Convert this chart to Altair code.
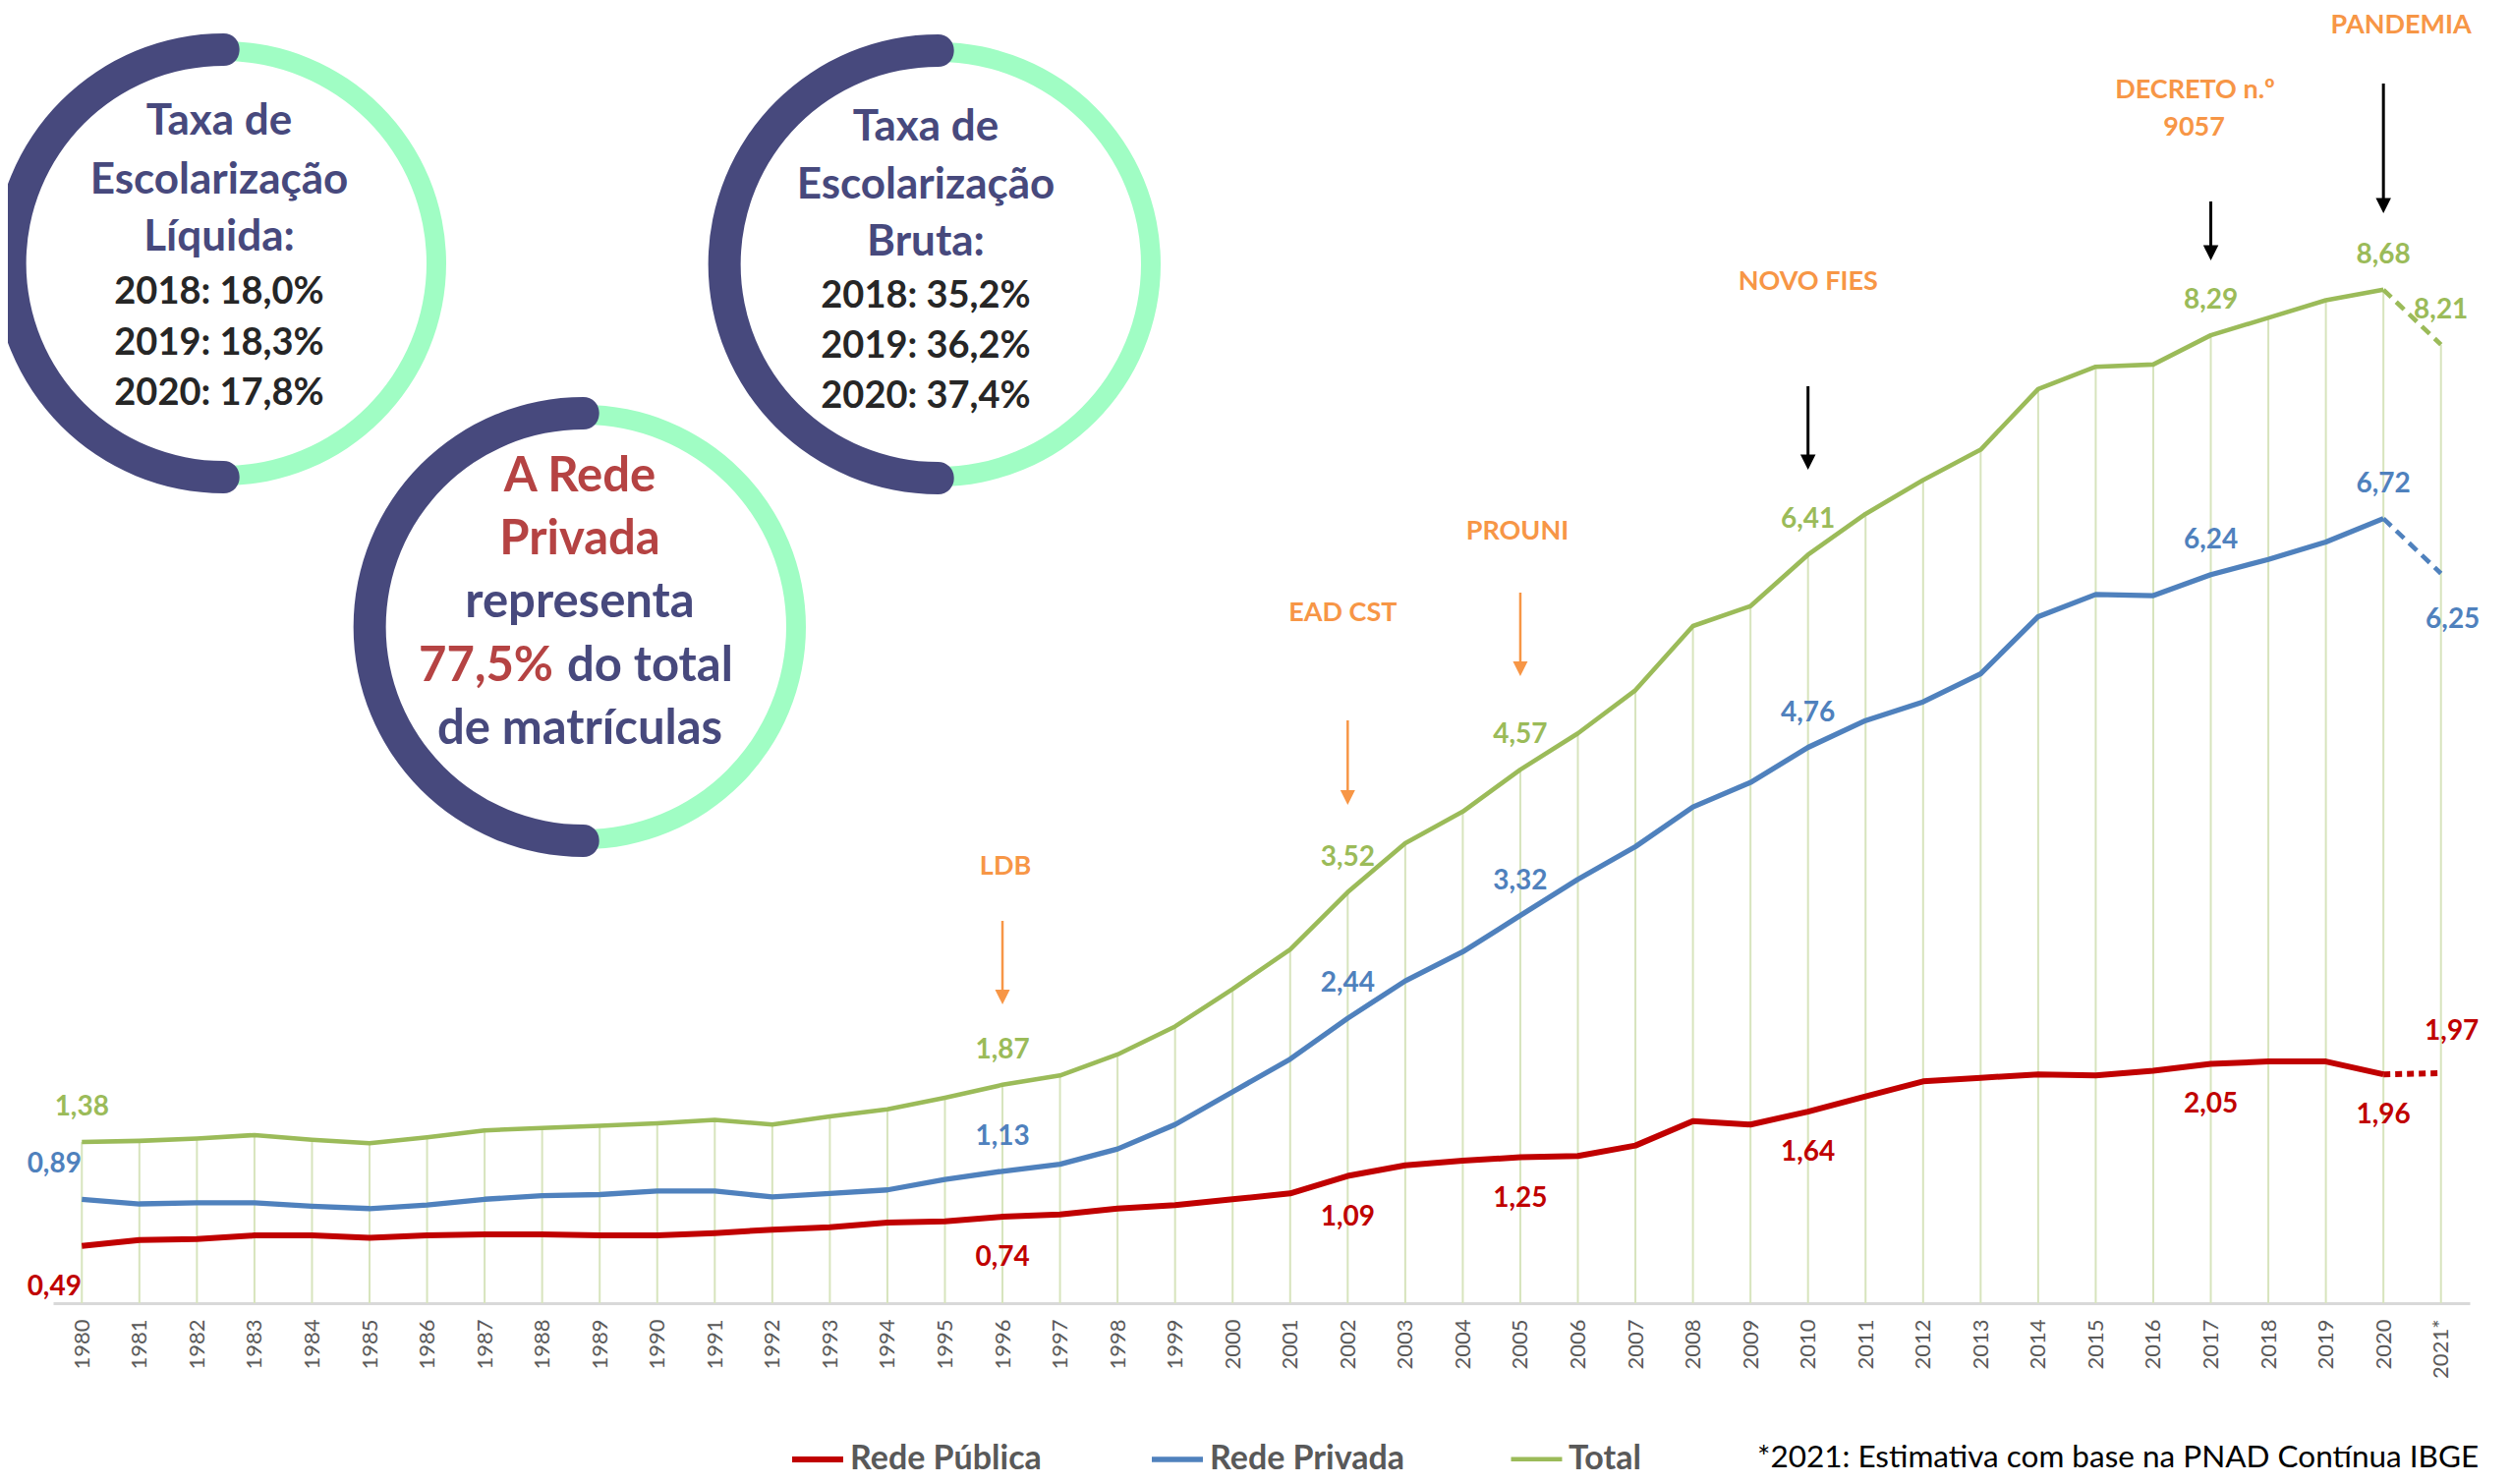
import math
import altair as alt
import pandas as pd

# ---------------- data ----------------
years = [str(y) for y in range(1980, 2021)] + ["2021*"]
rede_publica = [0.49, 0.54, 0.55, 0.58, 0.58, 0.56, 0.58, 0.59, 0.59, 0.58,
                0.58, 0.60, 0.63, 0.65, 0.69, 0.70, 0.74, 0.76, 0.81, 0.84,
                0.89, 0.94, 1.09, 1.18, 1.22, 1.25, 1.26, 1.35, 1.56, 1.53,
                1.64, 1.77, 1.90, 1.93, 1.96, 1.95, 1.99, 2.05, 2.07, 2.07,
                1.96, 1.97]
rede_privada = [0.89, 0.85, 0.86, 0.86, 0.83, 0.81, 0.84, 0.89, 0.92, 0.93,
                0.96, 0.96, 0.91, 0.94, 0.97, 1.06, 1.13, 1.19, 1.32, 1.53,
                1.81, 2.09, 2.44, 2.76, 3.01, 3.32, 3.63, 3.91, 4.25, 4.46,
                4.76, 4.99, 5.15, 5.39, 5.88, 6.07, 6.06, 6.24, 6.37, 6.52,
                6.72, 6.25]
total = [1.38, 1.39, 1.41, 1.44, 1.40, 1.37, 1.42, 1.48, 1.50, 1.52,
         1.54, 1.57, 1.53, 1.60, 1.66, 1.76, 1.87, 1.95, 2.13, 2.37,
         2.69, 3.03, 3.52, 3.94, 4.21, 4.57, 4.88, 5.25, 5.80, 5.97,
         6.41, 6.76, 7.05, 7.31, 7.83, 8.02, 8.04, 8.29, 8.44, 8.59,
         8.68, 8.21]
series_names = ["Rede Pública", "Rede Privada", "Total"]
series_colors = ["#C00000", "#4F81BD", "#9BBB59"]
series_widths = [6, 4.6, 4.6]
series_dash = [[7, 5], [11, 7], [11, 7]]

label_years = ["1980", "1996", "2002", "2005", "2010", "2017", "2020", "2021*"]

event_lines = ["LDB", "EAD CST", "PROUNI", "NOVO FIES", "DECRETO n.º", "9057", "PANDEMIA"]
event_line_years = ["1996", "2002", "2005", "2010", "2017", "2017", "2020"]
arrow_years = ["1996", "2002", "2005", "2010", "2017", "2020"]

liquida_title = ["Taxa de", "Escolarização", "Líquida:"]
liquida_vals = ["2018: 18,0%", "2019: 18,3%", "2020: 17,8%"]
bruta_title = ["Taxa de", "Escolarização", "Bruta:"]
bruta_vals = ["2018: 35,2%", "2019: 36,2%", "2020: 37,4%"]
privada_share = "77,5%"
footnote = "*2021: Estimativa com base na PNAD Contínua IBGE"

# ---------------- layout / style ----------------
PLOT_W, PLOT_H = 2459, 1318
PAD = {"left": 46, "right": 34, "top": 0, "bottom": 176}
PX_PER_UNIT = 118.8
Y_MAX = PLOT_H / PX_PER_UNIT
FONT = "Lato"
ORANGE = "#F79646"
PURPLE = "#47497D"
MINT = "#A0FDC4"
BRICK = "#B54343"
DARK = "#262626"
GRID = "#D7E4BD"


def page_to_value(py_):
    return (PLOT_H + 8 - py_) / PX_PER_UNIT


def px(page_x):
    return page_x - (8 + PAD["left"])


def py(page_y):
    return page_y - 8


def fmt(v):
    return f"{v:.2f}".replace(".", ",")


rows = []
for i, yr in enumerate(years):
    for s, vals in zip(series_names, [rede_publica, rede_privada, total]):
        rows.append({"year": yr, "series": s, "value": vals[i], "label": fmt(vals[i])})
df = pd.DataFrame(rows)
df_total = pd.DataFrame({"year": years, "value": total})

xscale = alt.Scale(type="point", padding=0.5)
X = alt.X("year:O", sort=years, scale=xscale, title=None,
          axis=alt.Axis(labelAngle=270, labelFontSize=22, labelColor="#595959",
                        labelFont=FONT, labelPadding=16, ticks=False, grid=False,
                        domainColor="#D9D9D9", domainWidth=3))
yscale = alt.Scale(domain=[0, Y_MAX], nice=False, zero=False)


def Yf(field):
    return alt.Y(f"{field}:Q", scale=yscale, axis=None)


color_enc = alt.Color(
    "series:N",
    scale=alt.Scale(domain=series_names, range=series_colors),
    legend=alt.Legend(title=None, orient="none", legendX=px(803), legendY=py(1456),
                      direction="horizontal", symbolType="stroke", symbolStrokeWidth=5,
                      symbolSize=2700, labelFontSize=34, labelFontWeight="bold",
                      labelColor="#595959", labelFont=FONT, labelOffset=4,
                      columnPadding=97, gridAlign="all", padding=0, labelLimit=400),
)
width_enc = alt.StrokeWidth("series:N", scale=alt.Scale(domain=series_names, range=series_widths), legend=None)

layers = []

# drop lines
layers.append(alt.Chart(df_total).mark_rule(color=GRID, strokeWidth=2).encode(
    x=X, y=Yf("value"), y2=alt.datum(0)))

# solid lines
layers.append(alt.Chart(df[df.year != "2021*"]).mark_line(strokeJoin="round").encode(
    x=X, y=Yf("value"), color=color_enc, strokeWidth=width_enc))

# dashed estimate segment (one layer per series, literal colours)
for s, c, w, dash in zip(series_names, series_colors, series_widths, series_dash):
    sub = df[df.year.isin(["2020", "2021*"]) & (df.series == s)]
    layers.append(alt.Chart(sub).mark_line(color=c, strokeWidth=w, strokeDash=dash).encode(
        x=X, y=Yf("value")))

# data labels
placements = {"above": (0, -35), "below": (0, 42), "above_left": (-28, -35),
              "below_left": (-28, 42), "above_right": (11, -42), "below_right": (12, 47)}
special = {("Rede Privada", "1980"): "above_left", ("Rede Privada", "2021*"): "below_right",
           ("Rede Pública", "1980"): "below_left", ("Rede Pública", "2021*"): "above_right"}
default_place = {"Total": "above", "Rede Privada": "above", "Rede Pública": "below"}
lab = df[df.year.isin(label_years)].copy()
lab["place"] = [special.get((s, y), default_place[s]) for s, y in zip(lab.series, lab.year)]
for s, c in zip(series_names, series_colors):
    for pname, (ddx, ddy) in placements.items():
        sub = lab[(lab.series == s) & (lab.place == pname)]
        if len(sub) == 0:
            continue
        layers.append(alt.Chart(sub).mark_text(
            dx=ddx, dy=ddy, font=FONT, fontSize=28, fontWeight="bold", color=c,
            align="center", baseline="middle").encode(x=X, y=Yf("value"), text="label:N"))

# event annotations (text)
ev_page_y = [882, 624, 541, 287, 91.5, 129.5, 26]
ev_dx = [3, -5, -3, 0, -16, -17, 18]
for t, yr, yy, ddx in zip(event_lines, event_line_years, ev_page_y, ev_dx):
    d = pd.DataFrame({"year": [yr], "v": [page_to_value(yy)]})
    layers.append(alt.Chart(d).mark_text(
        text=t, dx=ddx, font=FONT, fontSize=27, fontWeight="bold", color=ORANGE,
        align="center", baseline="middle").encode(x=X, y=Yf("v")))

# arrows
arrow_page = [(937, 1022), (733, 819), (603, 688), (393, 478), (205, 265), (85, 217)]
arrow_cols = [ORANGE, ORANGE, ORANGE, "black", "black", "black"]
arrow_w = [2.5, 2.5, 2.5, 3, 3, 3]
arrow_size = [225, 225, 225, 240, 240, 240]
head_shape = "M-1,-1L1,-1L0,1Z"
for yr, (top, tip), c, w, sz in zip(arrow_years, arrow_page, arrow_cols, arrow_w, arrow_size):
    half = math.sqrt(sz) / 2
    d = pd.DataFrame({"year": [yr], "top": [page_to_value(top)],
                      "shaft": [page_to_value(tip - half)],
                      "head": [page_to_value(tip - half)]})
    layers.append(alt.Chart(d).mark_rule(color=c, strokeWidth=w).encode(
        x=X, y=Yf("top"), y2="shaft:Q"))
    layers.append(alt.Chart(d).mark_point(shape=head_shape, filled=True, size=sz,
                                          color=c, opacity=1, strokeWidth=0).encode(
        x=X, y=Yf("head")))

# decorative rings
one = pd.DataFrame({"k": [0]})
rings = [(228, 268), (955, 269), (594, 638)]
ext = 0.072
for cxp, cyp in rings:
    layers.append(alt.Chart(one).mark_arc(
        radius=226, radius2=206, theta=0, theta2=2 * math.pi, color=MINT).encode(
        x=alt.value(px(cxp)), y=alt.value(py(cyp))))
    layers.append(alt.Chart(one).mark_arc(
        radius=234, radius2=201, theta=math.pi - ext, theta2=2 * math.pi + ext,
        cornerRadius=16, color=PURPLE).encode(
        x=alt.value(px(cxp)), y=alt.value(py(cyp))))


def text_layer(t, xpage, ypage, color, size, align="center", weight="bold"):
    return alt.Chart(one).mark_text(
        text=t, font=FONT, fontSize=size, fontWeight=weight, color=color,
        align=align, baseline="alphabetic").encode(
        x=alt.value(px(xpage)), y=alt.value(py(ypage)))


# ring 1 text
for t, yy in zip(liquida_title, [137, 197, 255]):
    layers.append(text_layer(t, 223, yy, PURPLE, 44))
for t, yy in zip(liquida_vals, [309, 361, 412]):
    layers.append(text_layer(t, 223, yy, DARK, 38))
# ring 2 text
for t, yy in zip(bruta_title, [143, 202, 260]):
    layers.append(text_layer(t, 942, yy, PURPLE, 44))
for t, yy in zip(bruta_vals, [313, 364, 415]):
    layers.append(text_layer(t, 942, yy, DARK, 38))
# ring 3 text
layers.append(text_layer("A Rede", 590, 500, BRICK, 49))
layers.append(text_layer("Privada", 590, 564, BRICK, 49))
layers.append(text_layer("representa", 590, 628, PURPLE, 49))
layers.append(text_layer(privada_share, 563, 693, BRICK, 49, align="right"))
layers.append(text_layer("do total", 577, 693, PURPLE, 49, align="left"))
layers.append(text_layer("de matrículas", 590, 757, PURPLE, 49))

# footnote
layers.append(text_layer(footnote, 1788, 1493, "black", 31.5, align="left", weight="normal"))

chart = alt.layer(*layers).properties(
    width=PLOT_W, height=PLOT_H,
    autosize=alt.AutoSizeParams(type="none"),
    padding=PAD,
    background="white",
).configure(font=FONT).configure_view(strokeWidth=0)

chart.save("out.html", embed_options={"renderer": "svg", "actions": False})
